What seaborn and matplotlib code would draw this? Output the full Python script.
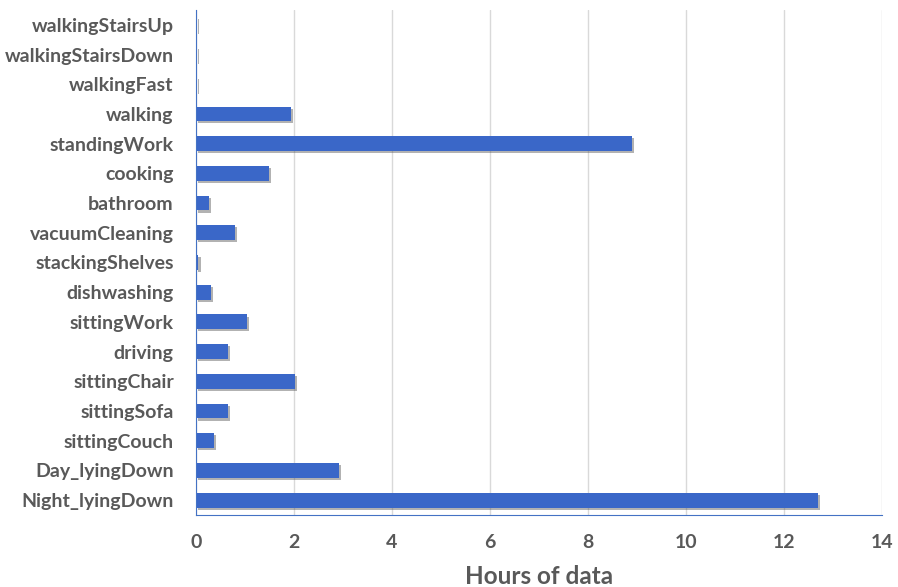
import matplotlib
matplotlib.use("Agg")
import matplotlib.pyplot as plt
import matplotlib.patheffects as pe
import pandas as pd
import seaborn as sns

activities = ['walkingStairsUp', 'walkingStairsDown', 'walkingFast', 'walking',
              'standingWork', 'cooking', 'bathroom', 'vacuumCleaning',
              'stackingShelves', 'dishwashing', 'sittingWork', 'driving',
              'sittingChair', 'sittingSofa', 'sittingCouch', 'Day_lyingDown',
              'Night_lyingDown']
hours = [0.02, 0.01, 0.01, 1.94, 8.9, 1.48, 0.27, 0.8, 0.05, 0.3, 1.04,
         0.65, 2.02, 0.65, 0.36, 2.92, 12.69]
x_ticks = [0, 2, 4, 6, 8, 10, 12, 14]

df = pd.DataFrame({'activity': activities, 'hours': hours})

sns.set_style('white')
plt.rcParams['font.family'] = ['Lato', 'DejaVu Sans']

fig = plt.figure(figsize=(8.98, 5.87), dpi=100)
ax = fig.add_axes([0.2183, 0.1227, 0.7635, 0.8603])

sns.barplot(data=df, x='hours', y='activity', orient='h', color='#3a67c8',
            width=0.5, saturation=1, linewidth=0, ax=ax)

for bar in ax.patches:
    bar.set_path_effects([pe.SimplePatchShadow(offset=(1.5, -1.5), shadow_rgbFace='#555555',
                                               alpha=0.45),
                          pe.Normal()])

ax.set_xlim(0, 14)
ax.set_xticks(x_ticks)
ax.set_ylim(len(activities) - 0.5, -0.5)
ax.xaxis.grid(True, color='#d9d9d9', linewidth=1)
ax.set_axisbelow(True)

for side in ['top', 'right']:
    ax.spines[side].set_visible(False)
ax.spines['left'].set_color('#4472c4')
ax.spines['bottom'].set_color('#4472c4')

ax.tick_params(axis='both', length=0, colors='#595959', labelsize=14)
ax.tick_params(axis='x', pad=14)
ax.tick_params(axis='y', pad=16)
for lbl in ax.get_xticklabels() + ax.get_yticklabels():
    lbl.set_fontweight('bold')

ax.set_ylabel('')
ax.set_xlabel('Hours of data', fontsize=17.5, fontweight='bold', color='#595959',
              labelpad=10)

fig.savefig('out.png', dpi=100)
